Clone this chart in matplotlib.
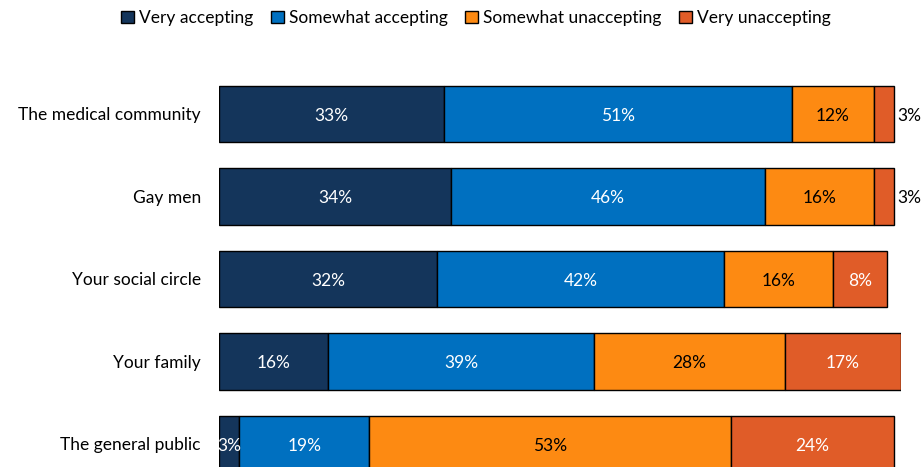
import matplotlib.pyplot as plt
import numpy as np

plt.rcParams['font.family'] = ['Lato', 'DejaVu Sans']

# Data
categories = ['The medical community', 'Gay men', 'Your social circle',
              'Your family', 'The general public']
series = ['Very accepting', 'Somewhat accepting', 'Somewhat unaccepting', 'Very unaccepting']
values = {
    'Very accepting':       [33, 34, 32, 16, 3],
    'Somewhat accepting':   [51, 46, 42, 39, 19],
    'Somewhat unaccepting': [12, 16, 16, 28, 53],
    'Very unaccepting':     [3, 3, 8, 17, 24],
}
colors = ['#14355B', '#0070C0', '#FD8A12', '#E05C28']
text_colors = ['white', 'white', 'black', 'white']

W, H = 922, 467
fig = plt.figure(figsize=(W / 100, H / 100), dpi=100)
ax = fig.add_axes([219 / W, 0, (901 - 219) / W, (H - 72.75) / H])

y = np.arange(len(categories))
left = np.zeros(len(categories))
for name, color, tc in zip(series, colors, text_colors):
    vals = np.array(values[name])
    ax.barh(y, vals, left=left, height=0.68, color=color, edgecolor='black',
            linewidth=1, label=name)
    for yi, (l, v) in enumerate(zip(left, vals)):
        if name == 'Very unaccepting' and v <= 3:
            ax.text(l + v + 0.5, yi + 0.02, f'{v}%', ha='left', va='center',
                    fontsize=12.5, color='black', clip_on=False)
        else:
            ax.text(l + v / 2, yi + 0.02, f'{v}%', ha='center', va='center',
                    fontsize=12.5, color=tc, clip_on=False)
    left += vals

ax.set_xlim(0, 100)
ax.set_ylim(4.279, -0.5)
ax.set_yticks(y)
ax.set_yticklabels(categories, fontsize=12.5)
ax.tick_params(axis='y', length=0, pad=13)
ax.set_xticks([])
for s in ax.spines.values():
    s.set_visible(False)

fig.legend(loc='center', bbox_to_anchor=(476 / W, 1 - 18 / H), ncol=4,
           frameon=False, fontsize=12.5, handlelength=0.75, handleheight=0.75,
           handletextpad=0.3, columnspacing=1.0)

fig.savefig('out.png', dpi=100)
